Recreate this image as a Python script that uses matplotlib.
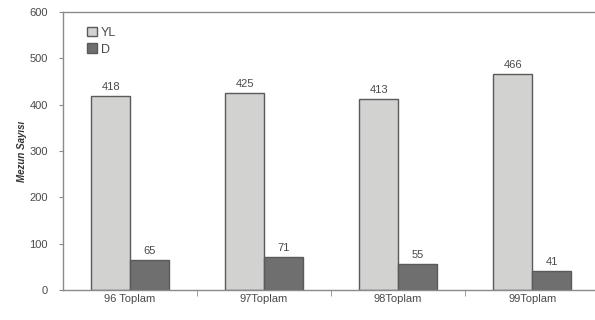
import matplotlib.pyplot as plt
import numpy as np

plt.rcParams['font.family'] = ['Liberation Sans', 'DejaVu Sans']

categories = ["96 Toplam", "97Toplam", "98Toplam", "99Toplam"]
yl_values = [418, 425, 413, 466]
d_values = [65, 71, 55, 41]

text_color = "#4a4a4a"
axis_color = "#8a8a8a"

fig = plt.figure(figsize=(5.95, 3.2), dpi=100)
ax = fig.add_axes([0.106, 0.094, 0.901, 0.868])

x = np.arange(len(categories))
w = 0.29
b1 = ax.bar(x - w / 2, yl_values, w, color="#d2d2d0", edgecolor="#5a5a5a",
            linewidth=1.0, label="YL")
b2 = ax.bar(x + w / 2, d_values, w, color="#6f6f6f", edgecolor="#5a5a5a",
            linewidth=1.0, label="D")

for rect, v in list(zip(b1, yl_values)) + list(zip(b2, d_values)):
    ax.text(rect.get_x() + rect.get_width() / 2, v + 9, str(v),
            ha="center", va="bottom", fontsize=8, color=text_color)

ax.set_xlim(-0.5, len(categories) - 0.5)
ax.set_ylim(0, 600)
ax.set_yticks(range(0, 601, 100))
ax.set_xticks(x)
ax.set_xticklabels(categories)
ax.set_xticks(np.arange(0.5, len(categories) - 0.5, 1), minor=True)
ax.tick_params(axis="x", which="major", length=0, pad=3, labelsize=8,
               labelcolor=text_color)
ax.tick_params(axis="x", which="minor", length=4, direction="out", color=axis_color)
ax.tick_params(axis="y", length=3, direction="out", color=axis_color,
               labelsize=8, labelcolor=text_color, pad=8)

for side in ["left", "top", "bottom"]:
    ax.spines[side].set_color(axis_color)
    ax.spines[side].set_linewidth(1.0)
ax.spines["right"].set_visible(False)

ax.set_ylabel("Mezun Sayısı", fontsize=7, fontstyle="italic", fontweight="bold",
              color="#333333")
ax.yaxis.set_label_coords(-0.068, 0.5)

leg = ax.legend(loc="upper left", bbox_to_anchor=(0.035, 0.965), frameon=False,
                fontsize=9, handlelength=0.8, handleheight=0.8,
                handletextpad=0.3, labelspacing=0.35, borderaxespad=0)
for t in leg.get_texts():
    t.set_color(text_color)

fig.savefig("out.png", dpi=100)
